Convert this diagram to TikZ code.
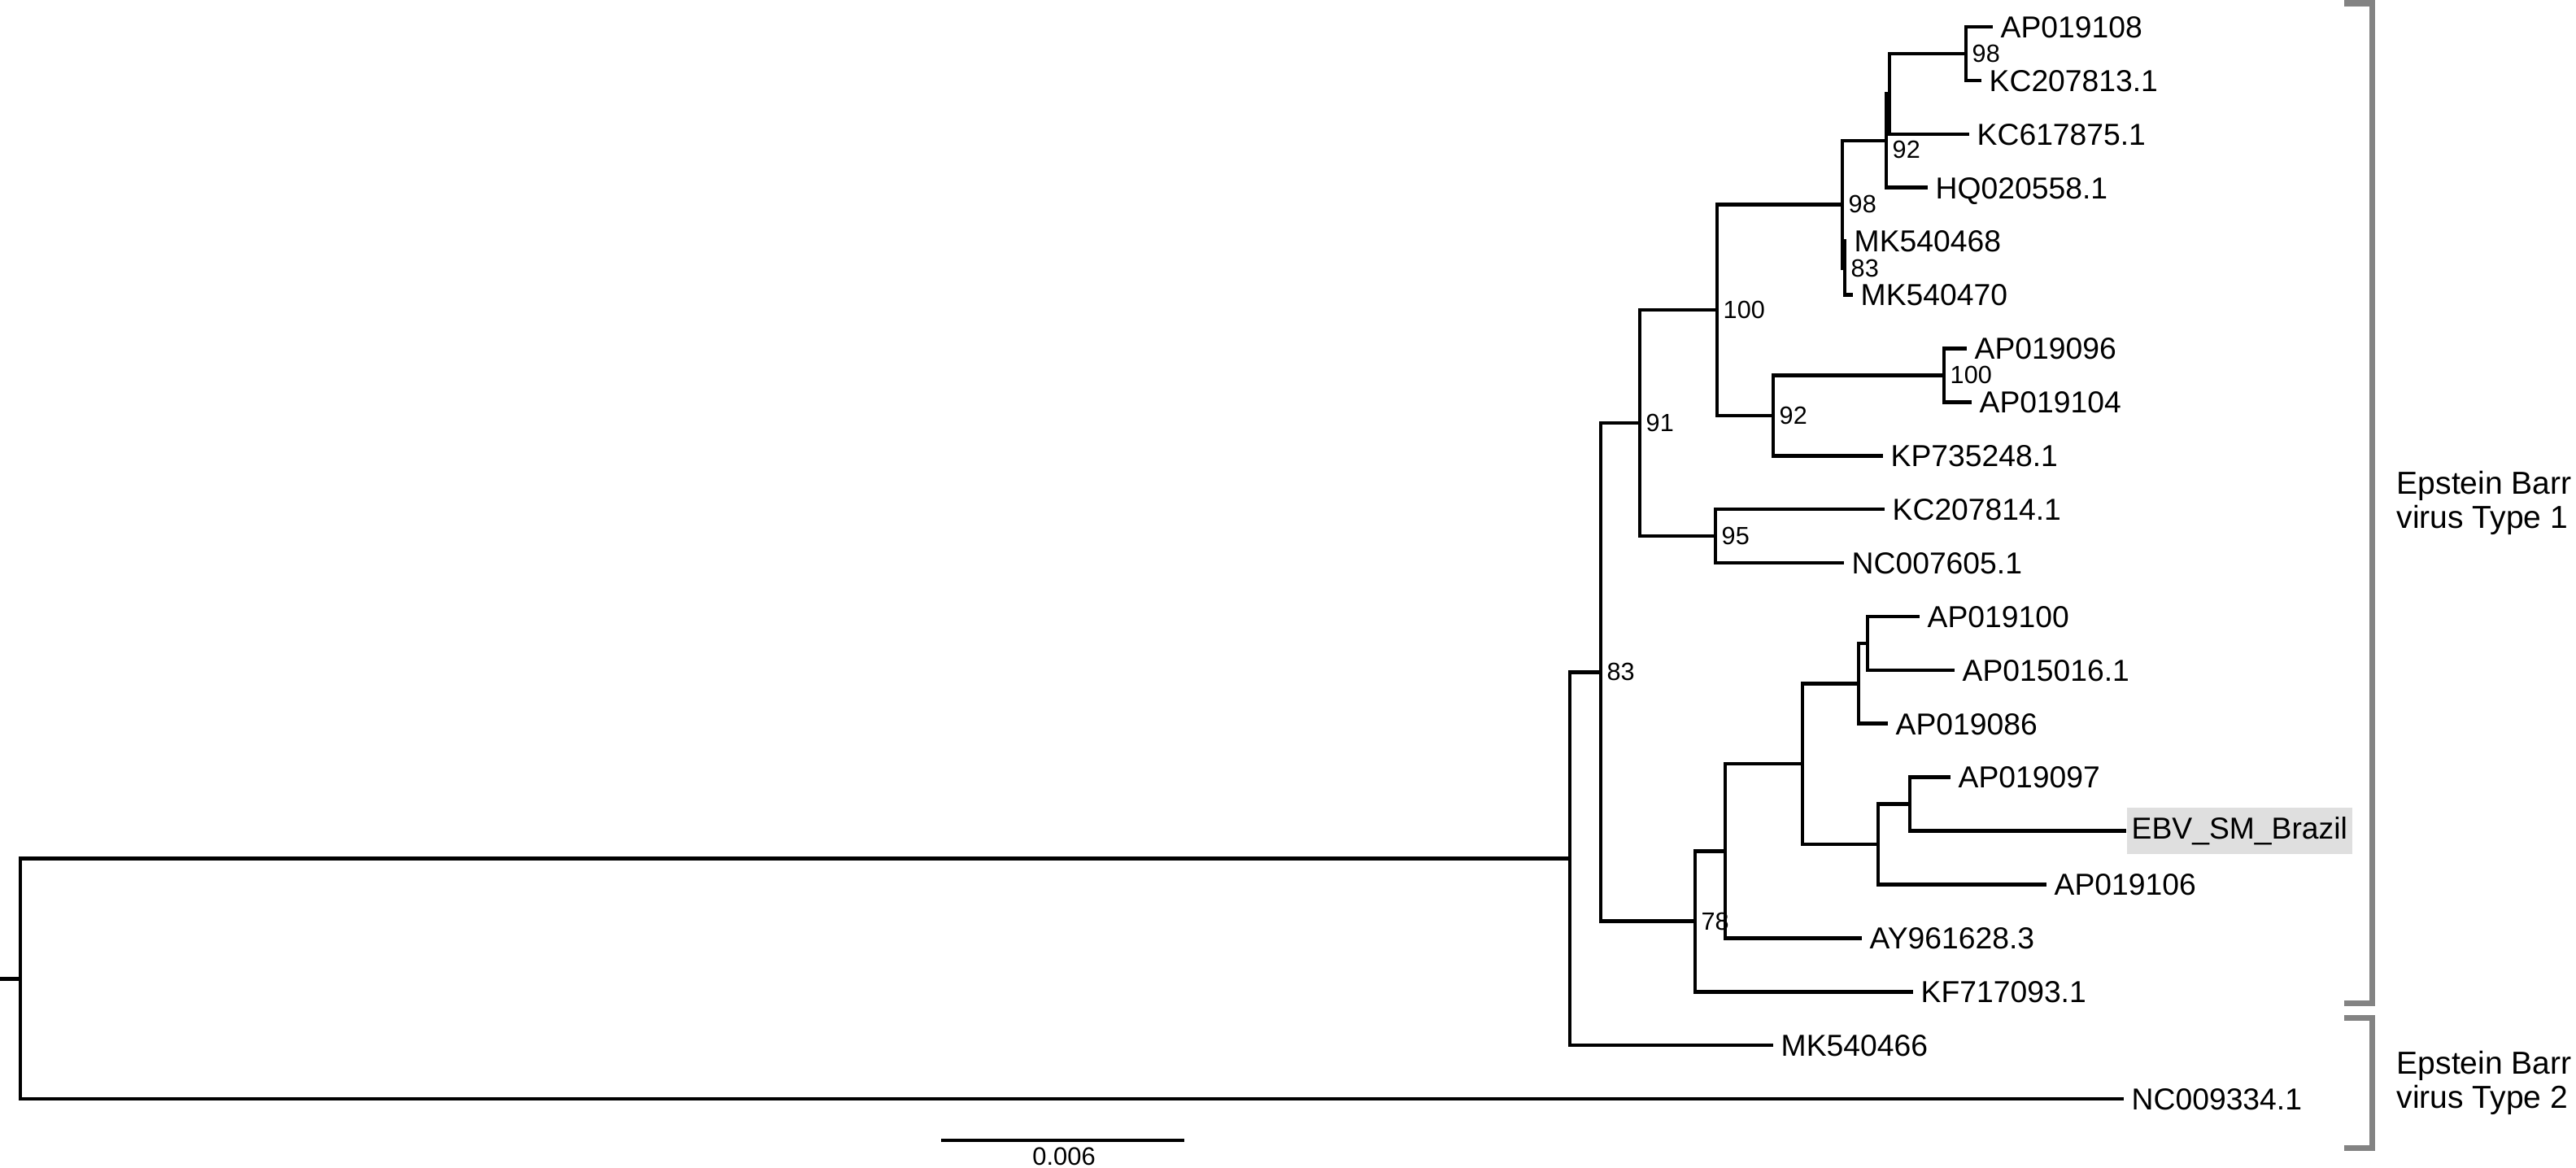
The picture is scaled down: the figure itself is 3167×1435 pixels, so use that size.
\documentclass[tikz,border=0pt]{standalone}
\usepackage{fontspec}
\setmainfont{Liberation Sans}
\usetikzlibrary{positioning}

\definecolor{cladegray}{HTML}{838383}
\definecolor{hilite}{HTML}{DFDFDF}

\tikzset{
	branch/.style={line width=1.3pt, black},
	leaf/.style={anchor=west, inner xsep=0.09cm, inner ysep=0pt, text height=7.6pt, text depth=0pt, font=\fontsize{10.6}{12}\selectfont},
	boot/.style={inner sep=0.07cm, font=\fontsize{8.7}{10}\selectfont},
	clade/.style={line width=2pt, cladegray},
	cladetext/.style={anchor=west, inner sep=0pt, align=left, font=\fontsize{11.1}{12}\selectfont},
}

\begin{document}
\begin{tikzpicture}[x=0.01cm, y=-0.01cm]
	\useasboundingbox (0,0) rectangle (3167,1435);

		% nodes - internal %
		\coordinate (stub) at (0,1203.4);
		\coordinate (root) at (25,1203.4);
		\coordinate (ntop) at (1930,1055.7);
		\coordinate (n83) at (1968,826.4);
		\coordinate (n91) at (2016,520);
		\coordinate (n100) at (2111,381);
		\coordinate (n98b) at (2265,251.3);
		\coordinate (n92) at (2319,173);
		\coordinate (nsub) at (2323,115.4);
		\coordinate (n98t) at (2417,66);
		\coordinate (n83s) at (2268,329.5);
		\coordinate (n92b) at (2180,510.8);
		\coordinate (n100b) at (2390,461.4);
		\coordinate (n95) at (2109,659);
		\coordinate (n78) at (2084,1132.7);
		\coordinate (nc) at (2121,1046.2);
		\coordinate (nd) at (2216,939.1);
		\coordinate (ne) at (2285,840.3);
		\coordinate (ng) at (2296,790.9);
		\coordinate (nf) at (2309,1038);
		\coordinate (nh) at (2348,988.5);

		% nodes - leaves %
		\node[leaf] (ap019108) at (2450,33) {AP019108};
		\node[leaf] (kc207813) at (2436,98.9) {KC207813.1};
		\node[leaf] (kc617875) at (2421,164.8) {KC617875.1};
		\node[leaf] (hq020558) at (2370,230.7) {HQ020558.1};
		\node[leaf] (mk540468) at (2270,296.6) {MK540468};
		\node[leaf] (mk540470) at (2278,362.5) {MK540470};
		\node[leaf] (ap019096) at (2418,428.4) {AP019096};
		\node[leaf] (ap019104) at (2424,494.3) {AP019104};
		\node[leaf] (kp735248) at (2315,560.2) {KP735248.1};
		\node[leaf] (kc207814) at (2317,626.1) {KC207814.1};
		\node[leaf] (nc007605) at (2267,692) {NC007605.1};
		\node[leaf] (ap019100) at (2360,757.9) {AP019100};
		\node[leaf] (ap015016) at (2403,823.8) {AP015016.1};
		\node[leaf] (ap019086) at (2321,889.7) {AP019086};
		\node[leaf] (ap019097) at (2398,955.6) {AP019097};
		\node[leaf, fill=hilite, inner xsep=0.06cm, inner ysep=3.3pt, text depth=2.2pt] (ebv) at (2614,1021.5) {EBV\_SM\_Brazil};
		\node[leaf] (ap019106) at (2516,1087.4) {AP019106};
		\node[leaf] (ay961628) at (2289,1153.3) {AY961628.3};
		\node[leaf] (kf717093) at (2352,1219.2) {KF717093.1};
		\node[leaf] (mk540466) at (2180,1285.1) {MK540466};
		\node[leaf] (nc009334) at (2611,1351) {NC009334.1};

		% bootstrap values %
		\node[boot, right=0pt of n98t] (b98t) {98};
		\node[boot, right=0pt of n92, yshift=-0.11cm] (b92) {92};
		\node[boot, right=0pt of n98b] (b98b) {98};
		\node[boot, right=0pt of n83s] (b83s) {83};
		\node[boot, right=0pt of n100] (b100) {100};
		\node[boot, right=0pt of n92b] (b92b) {92};
		\node[boot, right=0pt of n100b] (b100b) {100};
		\node[boot, right=0pt of n91] (b91) {91};
		\node[boot, right=0pt of n95] (b95) {95};
		\node[boot, right=0pt of n83] (b83) {83};
		\node[boot, right=0pt of n78] (b78) {78};

		% edges %
		\draw[branch] (stub) -- (root);
		\draw[branch] (root) |- (ntop);
		\draw[branch] (root) |- (nc009334.west);
		\draw[branch] (ntop) |- (n83);
		\draw[branch] (ntop) |- (mk540466.west);
		\draw[branch] (n83) |- (n91);
		\draw[branch] (n83) |- (n78);
		\draw[branch] (n91) |- (n100);
		\draw[branch] (n91) |- (n95);
		\draw[branch] (n100) |- (n98b);
		\draw[branch] (n100) |- (n92b);
		\draw[branch] (n98b) |- (n92);
		\draw[branch] (n98b) |- (n83s);
		\draw[branch] (n92) |- (nsub);
		\draw[branch] (n92) |- (hq020558.west);
		\draw[branch] (nsub) |- (n98t);
		\draw[branch] (nsub) |- (kc617875.west);
		\draw[branch] (n98t) |- (ap019108.west);
		\draw[branch] (n98t) |- (kc207813.west);
		\draw[branch] (n83s) |- (mk540468.west);
		\draw[branch] (n83s) |- (mk540470.west);
		\draw[branch] (n92b) |- (n100b);
		\draw[branch] (n92b) |- (kp735248.west);
		\draw[branch] (n100b) |- (ap019096.west);
		\draw[branch] (n100b) |- (ap019104.west);
		\draw[branch] (n95) |- (kc207814.west);
		\draw[branch] (n95) |- (nc007605.west);
		\draw[branch] (n78) |- (nc);
		\draw[branch] (n78) |- (kf717093.west);
		\draw[branch] (nc) |- (nd);
		\draw[branch] (nc) |- (ay961628.west);
		\draw[branch] (nd) |- (ne);
		\draw[branch] (nd) |- (nf);
		\draw[branch] (ne) |- (ng);
		\draw[branch] (ne) |- (ap019086.west);
		\draw[branch] (ng) |- (ap019100.west);
		\draw[branch] (ng) |- (ap015016.west);
		\draw[branch] (nf) |- (nh);
		\draw[branch] (nf) |- (ap019106.west);
		\draw[branch] (nh) |- (ap019097.west);
		\draw[branch] (nh) |- (ebv.west);

		% clade brackets %
		\coordinate (t1top) at (2882,4);
		\coordinate (t1bot) at (2882,1233);
		\coordinate (t2top) at (2882,1251);
		\coordinate (t2bot) at (2882,1411);
		\draw[clade] (t1top) -- ++(34,0) |- (t1bot);
		\draw[clade] (t2top) -- ++(34,0) |- (t2bot);
		\node[cladetext] (type1) at (2946,618.5) {Epstein Barr\\virus Type 1};
		\node[cladetext] (type2) at (2946,1331) {Epstein Barr\\virus Type 2};

		% scale bar %
		\coordinate (sb1) at (1157,1402);
		\coordinate (sb2) at (1456,1402);
		\draw[branch] (sb1) -- (sb2);
		\node[font=\fontsize{8.8}{10}\selectfont, inner sep=0pt] (sblabel) at (1308,1422) {0.006};

\end{tikzpicture}
\end{document}
